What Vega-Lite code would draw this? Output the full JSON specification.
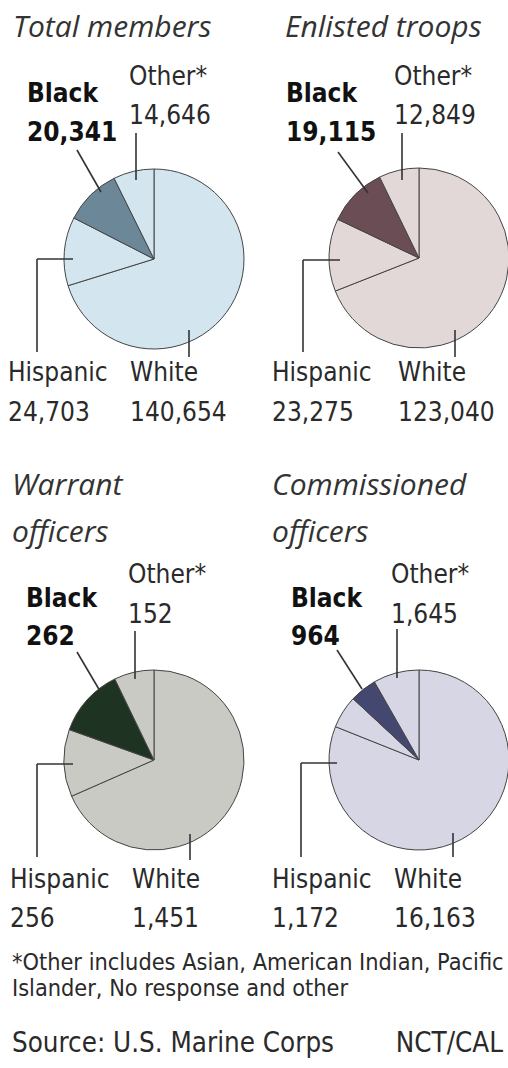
{
  "$schema": "https://vega.github.io/schema/vega-lite/v6.json",
  "padding": 0,
  "background": "white",
  "columns": 2,
  "spacing": {"row": 0, "column": 22},
  "bounds": "flush",
  "config": {
    "view": {"stroke": null},
    "text": {"font": "DejaVu Sans Condensed", "fontSize": 26, "fill": "#2a2a2a", "align": "left", "baseline": "alphabetic"},
    "rule": {"stroke": "#333333", "strokeWidth": 1.6},
    "arc": {"stroke": "#444444", "strokeWidth": 1, "radius": 90}
  },
  "datasets": {
    "marines": [
      {"panel": "Total members", "race": "White", "count": 140654},
      {"panel": "Total members", "race": "Hispanic", "count": 24703},
      {"panel": "Total members", "race": "Black", "count": 20341},
      {"panel": "Total members", "race": "Other*", "count": 14646},
      {"panel": "Enlisted troops", "race": "White", "count": 123040},
      {"panel": "Enlisted troops", "race": "Hispanic", "count": 23275},
      {"panel": "Enlisted troops", "race": "Black", "count": 19115},
      {"panel": "Enlisted troops", "race": "Other*", "count": 12849},
      {"panel": "Warrant officers", "race": "White", "count": 1451},
      {"panel": "Warrant officers", "race": "Hispanic", "count": 256},
      {"panel": "Warrant officers", "race": "Black", "count": 262},
      {"panel": "Warrant officers", "race": "Other*", "count": 152},
      {"panel": "Commissioned officers", "race": "White", "count": 16163},
      {"panel": "Commissioned officers", "race": "Hispanic", "count": 1172},
      {"panel": "Commissioned officers", "race": "Black", "count": 964},
      {"panel": "Commissioned officers", "race": "Other*", "count": 1645}
    ]
  },
  "concat": [
    {
      "width": 243, "height": 503,
      "data": {"name": "marines"},
      "transform": [
        {"filter": "datum.panel === 'Total members'"},
        {"stack": "count", "groupby": ["panel"], "offset": "normalize", "as": ["t0", "t1"]}
      ],
      "layer": [
        {"mark": {"type": "arc"}, "encoding": {
          "x": {"datum": 154, "type": "quantitative", "scale": {"domain": [0, 243]}, "axis": null},
          "y": {"datum": 259, "type": "quantitative", "scale": {"domain": [0, 503], "reverse": true}, "axis": null},
          "theta": {"field": "t0", "type": "quantitative", "scale": {"domain": [0, 1]}},
          "theta2": {"field": "t1"},
          "fill": {"condition": {"test": "datum.race === 'Black'", "value": "#6c8797"}, "value": "#d3e5ee"}}},
        {"transform": [{"filter": "datum.race === 'Black'"}], "mark": {"type": "rule"}, "encoding": {
          "x": {"datum": 77, "type": "quantitative", "scale": {"domain": [0, 243]}, "axis": null},
          "y": {"datum": 150, "type": "quantitative", "scale": {"domain": [0, 503], "reverse": true}, "axis": null},
          "x2": {"datum": 101}, "y2": {"datum": 192}}},
        {"transform": [{"filter": "datum.race === 'Other*'"}], "mark": {"type": "rule"}, "encoding": {
          "x": {"datum": 136, "type": "quantitative", "scale": {"domain": [0, 243]}, "axis": null},
          "y": {"datum": 133, "type": "quantitative", "scale": {"domain": [0, 503], "reverse": true}, "axis": null},
          "x2": {"datum": 136}, "y2": {"datum": 180}}},
        {"transform": [{"filter": "datum.race === 'Hispanic'"}], "mark": {"type": "rule"}, "encoding": {
          "x": {"datum": 37, "type": "quantitative", "scale": {"domain": [0, 243]}, "axis": null},
          "y": {"datum": 259, "type": "quantitative", "scale": {"domain": [0, 503], "reverse": true}, "axis": null},
          "x2": {"datum": 73}, "y2": {"datum": 259}}},
        {"transform": [{"filter": "datum.race === 'Hispanic'"}], "mark": {"type": "rule"}, "encoding": {
          "x": {"datum": 37, "type": "quantitative", "scale": {"domain": [0, 243]}, "axis": null},
          "y": {"datum": 259, "type": "quantitative", "scale": {"domain": [0, 503], "reverse": true}, "axis": null},
          "x2": {"datum": 37}, "y2": {"datum": 352}}},
        {"transform": [{"filter": "datum.race === 'White'"}], "mark": {"type": "rule"}, "encoding": {
          "x": {"datum": 189, "type": "quantitative", "scale": {"domain": [0, 243]}, "axis": null},
          "y": {"datum": 330, "type": "quantitative", "scale": {"domain": [0, 503], "reverse": true}, "axis": null},
          "x2": {"datum": 189}, "y2": {"datum": 357}}},
        {"transform": [{"filter": "datum.race === 'White'"}], "mark": {"type": "text", "font": "Open Sans", "fontStyle": "italic", "fontSize": 30, "fill": "#333333"}, "encoding": {
          "x": {"datum": 13, "type": "quantitative", "scale": {"domain": [0, 243]}, "axis": null},
          "y": {"datum": 37, "type": "quantitative", "scale": {"domain": [0, 503], "reverse": true}, "axis": null},
          "text": {"value": "Total members"}}},
        {"transform": [{"filter": "datum.race === 'Black'"}], "mark": {"type": "text", "fontWeight": "bold", "fill": "#111111"}, "encoding": {
          "x": {"datum": 27, "type": "quantitative", "scale": {"domain": [0, 243]}, "axis": null},
          "y": {"datum": 102, "type": "quantitative", "scale": {"domain": [0, 503], "reverse": true}, "axis": null},
          "text": {"field": "race", "type": "nominal"}}},
        {"transform": [{"filter": "datum.race === 'Black'"}], "mark": {"type": "text", "fontWeight": "bold", "fill": "#111111"}, "encoding": {
          "x": {"datum": 27, "type": "quantitative", "scale": {"domain": [0, 243]}, "axis": null},
          "y": {"datum": 141, "type": "quantitative", "scale": {"domain": [0, 503], "reverse": true}, "axis": null},
          "text": {"field": "count", "type": "quantitative", "format": ","}}},
        {"transform": [{"filter": "datum.race === 'Other*'"}], "mark": {"type": "text"}, "encoding": {
          "x": {"datum": 129, "type": "quantitative", "scale": {"domain": [0, 243]}, "axis": null},
          "y": {"datum": 85, "type": "quantitative", "scale": {"domain": [0, 503], "reverse": true}, "axis": null},
          "text": {"field": "race", "type": "nominal"}}},
        {"transform": [{"filter": "datum.race === 'Other*'"}], "mark": {"type": "text"}, "encoding": {
          "x": {"datum": 129, "type": "quantitative", "scale": {"domain": [0, 243]}, "axis": null},
          "y": {"datum": 124, "type": "quantitative", "scale": {"domain": [0, 503], "reverse": true}, "axis": null},
          "text": {"field": "count", "type": "quantitative", "format": ","}}},
        {"transform": [{"filter": "datum.race === 'Hispanic'"}], "mark": {"type": "text"}, "encoding": {
          "x": {"datum": 8, "type": "quantitative", "scale": {"domain": [0, 243]}, "axis": null},
          "y": {"datum": 381, "type": "quantitative", "scale": {"domain": [0, 503], "reverse": true}, "axis": null},
          "text": {"field": "race", "type": "nominal"}}},
        {"transform": [{"filter": "datum.race === 'Hispanic'"}], "mark": {"type": "text"}, "encoding": {
          "x": {"datum": 8, "type": "quantitative", "scale": {"domain": [0, 243]}, "axis": null},
          "y": {"datum": 421, "type": "quantitative", "scale": {"domain": [0, 503], "reverse": true}, "axis": null},
          "text": {"field": "count", "type": "quantitative", "format": ","}}},
        {"transform": [{"filter": "datum.race === 'White'"}], "mark": {"type": "text"}, "encoding": {
          "x": {"datum": 130, "type": "quantitative", "scale": {"domain": [0, 243]}, "axis": null},
          "y": {"datum": 381, "type": "quantitative", "scale": {"domain": [0, 503], "reverse": true}, "axis": null},
          "text": {"field": "race", "type": "nominal"}}},
        {"transform": [{"filter": "datum.race === 'White'"}], "mark": {"type": "text"}, "encoding": {
          "x": {"datum": 130, "type": "quantitative", "scale": {"domain": [0, 243]}, "axis": null},
          "y": {"datum": 421, "type": "quantitative", "scale": {"domain": [0, 503], "reverse": true}, "axis": null},
          "text": {"field": "count", "type": "quantitative", "format": ","}}}
      ]
    },
    {
      "width": 243, "height": 503,
      "data": {"name": "marines"},
      "transform": [
        {"filter": "datum.panel === 'Enlisted troops'"},
        {"stack": "count", "groupby": ["panel"], "offset": "normalize", "as": ["t0", "t1"]}
      ],
      "layer": [
        {"mark": {"type": "arc"}, "encoding": {
          "x": {"datum": 154, "type": "quantitative", "scale": {"domain": [0, 243]}, "axis": null},
          "y": {"datum": 258, "type": "quantitative", "scale": {"domain": [0, 503], "reverse": true}, "axis": null},
          "theta": {"field": "t0", "type": "quantitative", "scale": {"domain": [0, 1]}},
          "theta2": {"field": "t1"},
          "fill": {"condition": {"test": "datum.race === 'Black'", "value": "#6a4d55"}, "value": "#e3d8d8"}}},
        {"transform": [{"filter": "datum.race === 'Black'"}], "mark": {"type": "rule"}, "encoding": {
          "x": {"datum": 73, "type": "quantitative", "scale": {"domain": [0, 243]}, "axis": null},
          "y": {"datum": 152, "type": "quantitative", "scale": {"domain": [0, 503], "reverse": true}, "axis": null},
          "x2": {"datum": 103}, "y2": {"datum": 193}}},
        {"transform": [{"filter": "datum.race === 'Other*'"}], "mark": {"type": "rule"}, "encoding": {
          "x": {"datum": 137, "type": "quantitative", "scale": {"domain": [0, 243]}, "axis": null},
          "y": {"datum": 133, "type": "quantitative", "scale": {"domain": [0, 503], "reverse": true}, "axis": null},
          "x2": {"datum": 137}, "y2": {"datum": 180}}},
        {"transform": [{"filter": "datum.race === 'Hispanic'"}], "mark": {"type": "rule"}, "encoding": {
          "x": {"datum": 38, "type": "quantitative", "scale": {"domain": [0, 243]}, "axis": null},
          "y": {"datum": 260, "type": "quantitative", "scale": {"domain": [0, 503], "reverse": true}, "axis": null},
          "x2": {"datum": 75}, "y2": {"datum": 260}}},
        {"transform": [{"filter": "datum.race === 'Hispanic'"}], "mark": {"type": "rule"}, "encoding": {
          "x": {"datum": 38, "type": "quantitative", "scale": {"domain": [0, 243]}, "axis": null},
          "y": {"datum": 260, "type": "quantitative", "scale": {"domain": [0, 503], "reverse": true}, "axis": null},
          "x2": {"datum": 38}, "y2": {"datum": 352}}},
        {"transform": [{"filter": "datum.race === 'White'"}], "mark": {"type": "rule"}, "encoding": {
          "x": {"datum": 190, "type": "quantitative", "scale": {"domain": [0, 243]}, "axis": null},
          "y": {"datum": 330, "type": "quantitative", "scale": {"domain": [0, 503], "reverse": true}, "axis": null},
          "x2": {"datum": 190}, "y2": {"datum": 357}}},
        {"transform": [{"filter": "datum.race === 'White'"}], "mark": {"type": "text", "font": "Open Sans", "fontStyle": "italic", "fontSize": 30, "fill": "#333333"}, "encoding": {
          "x": {"datum": 20, "type": "quantitative", "scale": {"domain": [0, 243]}, "axis": null},
          "y": {"datum": 37, "type": "quantitative", "scale": {"domain": [0, 503], "reverse": true}, "axis": null},
          "text": {"value": "Enlisted troops"}}},
        {"transform": [{"filter": "datum.race === 'Black'"}], "mark": {"type": "text", "fontWeight": "bold", "fill": "#111111"}, "encoding": {
          "x": {"datum": 21, "type": "quantitative", "scale": {"domain": [0, 243]}, "axis": null},
          "y": {"datum": 102, "type": "quantitative", "scale": {"domain": [0, 503], "reverse": true}, "axis": null},
          "text": {"field": "race", "type": "nominal"}}},
        {"transform": [{"filter": "datum.race === 'Black'"}], "mark": {"type": "text", "fontWeight": "bold", "fill": "#111111"}, "encoding": {
          "x": {"datum": 21, "type": "quantitative", "scale": {"domain": [0, 243]}, "axis": null},
          "y": {"datum": 141, "type": "quantitative", "scale": {"domain": [0, 503], "reverse": true}, "axis": null},
          "text": {"field": "count", "type": "quantitative", "format": ","}}},
        {"transform": [{"filter": "datum.race === 'Other*'"}], "mark": {"type": "text"}, "encoding": {
          "x": {"datum": 129, "type": "quantitative", "scale": {"domain": [0, 243]}, "axis": null},
          "y": {"datum": 85, "type": "quantitative", "scale": {"domain": [0, 503], "reverse": true}, "axis": null},
          "text": {"field": "race", "type": "nominal"}}},
        {"transform": [{"filter": "datum.race === 'Other*'"}], "mark": {"type": "text"}, "encoding": {
          "x": {"datum": 129, "type": "quantitative", "scale": {"domain": [0, 243]}, "axis": null},
          "y": {"datum": 124, "type": "quantitative", "scale": {"domain": [0, 503], "reverse": true}, "axis": null},
          "text": {"field": "count", "type": "quantitative", "format": ","}}},
        {"transform": [{"filter": "datum.race === 'Hispanic'"}], "mark": {"type": "text"}, "encoding": {
          "x": {"datum": 7, "type": "quantitative", "scale": {"domain": [0, 243]}, "axis": null},
          "y": {"datum": 381, "type": "quantitative", "scale": {"domain": [0, 503], "reverse": true}, "axis": null},
          "text": {"field": "race", "type": "nominal"}}},
        {"transform": [{"filter": "datum.race === 'Hispanic'"}], "mark": {"type": "text"}, "encoding": {
          "x": {"datum": 7, "type": "quantitative", "scale": {"domain": [0, 243]}, "axis": null},
          "y": {"datum": 421, "type": "quantitative", "scale": {"domain": [0, 503], "reverse": true}, "axis": null},
          "text": {"field": "count", "type": "quantitative", "format": ","}}},
        {"transform": [{"filter": "datum.race === 'White'"}], "mark": {"type": "text"}, "encoding": {
          "x": {"datum": 133, "type": "quantitative", "scale": {"domain": [0, 243]}, "axis": null},
          "y": {"datum": 381, "type": "quantitative", "scale": {"domain": [0, 503], "reverse": true}, "axis": null},
          "text": {"field": "race", "type": "nominal"}}},
        {"transform": [{"filter": "datum.race === 'White'"}], "mark": {"type": "text"}, "encoding": {
          "x": {"datum": 133, "type": "quantitative", "scale": {"domain": [0, 243]}, "axis": null},
          "y": {"datum": 421, "type": "quantitative", "scale": {"domain": [0, 503], "reverse": true}, "axis": null},
          "text": {"field": "count", "type": "quantitative", "format": ","}}}
      ]
    },
    {
      "width": 243, "height": 440,
      "data": {"name": "marines"},
      "transform": [
        {"filter": "datum.panel === 'Warrant officers'"},
        {"stack": "count", "groupby": ["panel"], "offset": "normalize", "as": ["t0", "t1"]}
      ],
      "layer": [
        {"mark": {"type": "arc"}, "encoding": {
          "x": {"datum": 154, "type": "quantitative", "scale": {"domain": [0, 243]}, "axis": null},
          "y": {"datum": 257, "type": "quantitative", "scale": {"domain": [0, 440], "reverse": true}, "axis": null},
          "theta": {"field": "t0", "type": "quantitative", "scale": {"domain": [0, 1]}},
          "theta2": {"field": "t1"},
          "fill": {"condition": {"test": "datum.race === 'Black'", "value": "#1f3323"}, "value": "#c9cac4"}}},
        {"transform": [{"filter": "datum.race === 'Black'"}], "mark": {"type": "rule"}, "encoding": {
          "x": {"datum": 77, "type": "quantitative", "scale": {"domain": [0, 243]}, "axis": null},
          "y": {"datum": 149, "type": "quantitative", "scale": {"domain": [0, 440], "reverse": true}, "axis": null},
          "x2": {"datum": 100}, "y2": {"datum": 188}}},
        {"transform": [{"filter": "datum.race === 'Other*'"}], "mark": {"type": "rule"}, "encoding": {
          "x": {"datum": 135, "type": "quantitative", "scale": {"domain": [0, 243]}, "axis": null},
          "y": {"datum": 128, "type": "quantitative", "scale": {"domain": [0, 440], "reverse": true}, "axis": null},
          "x2": {"datum": 135}, "y2": {"datum": 176}}},
        {"transform": [{"filter": "datum.race === 'Hispanic'"}], "mark": {"type": "rule"}, "encoding": {
          "x": {"datum": 37, "type": "quantitative", "scale": {"domain": [0, 243]}, "axis": null},
          "y": {"datum": 261, "type": "quantitative", "scale": {"domain": [0, 440], "reverse": true}, "axis": null},
          "x2": {"datum": 73}, "y2": {"datum": 261}}},
        {"transform": [{"filter": "datum.race === 'Hispanic'"}], "mark": {"type": "rule"}, "encoding": {
          "x": {"datum": 37, "type": "quantitative", "scale": {"domain": [0, 243]}, "axis": null},
          "y": {"datum": 261, "type": "quantitative", "scale": {"domain": [0, 440], "reverse": true}, "axis": null},
          "x2": {"datum": 37}, "y2": {"datum": 354}}},
        {"transform": [{"filter": "datum.race === 'White'"}], "mark": {"type": "rule"}, "encoding": {
          "x": {"datum": 190, "type": "quantitative", "scale": {"domain": [0, 243]}, "axis": null},
          "y": {"datum": 331, "type": "quantitative", "scale": {"domain": [0, 440], "reverse": true}, "axis": null},
          "x2": {"datum": 190}, "y2": {"datum": 357}}},
        {"transform": [{"filter": "datum.race === 'White'"}], "mark": {"type": "text", "font": "Open Sans", "fontStyle": "italic", "fontSize": 30, "fill": "#333333", "lineHeight": 47}, "encoding": {
          "x": {"datum": 12, "type": "quantitative", "scale": {"domain": [0, 243]}, "axis": null},
          "y": {"datum": -8, "type": "quantitative", "scale": {"domain": [0, 440], "reverse": true}, "axis": null},
          "text": {"value": ["Warrant", "officers"]}}},
        {"transform": [{"filter": "datum.race === 'Black'"}], "mark": {"type": "text", "fontWeight": "bold", "fill": "#111111"}, "encoding": {
          "x": {"datum": 26, "type": "quantitative", "scale": {"domain": [0, 243]}, "axis": null},
          "y": {"datum": 104, "type": "quantitative", "scale": {"domain": [0, 440], "reverse": true}, "axis": null},
          "text": {"field": "race", "type": "nominal"}}},
        {"transform": [{"filter": "datum.race === 'Black'"}], "mark": {"type": "text", "fontWeight": "bold", "fill": "#111111"}, "encoding": {
          "x": {"datum": 26, "type": "quantitative", "scale": {"domain": [0, 243]}, "axis": null},
          "y": {"datum": 142, "type": "quantitative", "scale": {"domain": [0, 440], "reverse": true}, "axis": null},
          "text": {"field": "count", "type": "quantitative", "format": ","}}},
        {"transform": [{"filter": "datum.race === 'Other*'"}], "mark": {"type": "text"}, "encoding": {
          "x": {"datum": 128, "type": "quantitative", "scale": {"domain": [0, 243]}, "axis": null},
          "y": {"datum": 80, "type": "quantitative", "scale": {"domain": [0, 440], "reverse": true}, "axis": null},
          "text": {"field": "race", "type": "nominal"}}},
        {"transform": [{"filter": "datum.race === 'Other*'"}], "mark": {"type": "text"}, "encoding": {
          "x": {"datum": 128, "type": "quantitative", "scale": {"domain": [0, 243]}, "axis": null},
          "y": {"datum": 120, "type": "quantitative", "scale": {"domain": [0, 440], "reverse": true}, "axis": null},
          "text": {"field": "count", "type": "quantitative", "format": ","}}},
        {"transform": [{"filter": "datum.race === 'Hispanic'"}], "mark": {"type": "text"}, "encoding": {
          "x": {"datum": 10, "type": "quantitative", "scale": {"domain": [0, 243]}, "axis": null},
          "y": {"datum": 385, "type": "quantitative", "scale": {"domain": [0, 440], "reverse": true}, "axis": null},
          "text": {"field": "race", "type": "nominal"}}},
        {"transform": [{"filter": "datum.race === 'Hispanic'"}], "mark": {"type": "text"}, "encoding": {
          "x": {"datum": 10, "type": "quantitative", "scale": {"domain": [0, 243]}, "axis": null},
          "y": {"datum": 424, "type": "quantitative", "scale": {"domain": [0, 440], "reverse": true}, "axis": null},
          "text": {"field": "count", "type": "quantitative", "format": ","}}},
        {"transform": [{"filter": "datum.race === 'White'"}], "mark": {"type": "text"}, "encoding": {
          "x": {"datum": 132, "type": "quantitative", "scale": {"domain": [0, 243]}, "axis": null},
          "y": {"datum": 385, "type": "quantitative", "scale": {"domain": [0, 440], "reverse": true}, "axis": null},
          "text": {"field": "race", "type": "nominal"}}},
        {"transform": [{"filter": "datum.race === 'White'"}], "mark": {"type": "text"}, "encoding": {
          "x": {"datum": 132, "type": "quantitative", "scale": {"domain": [0, 243]}, "axis": null},
          "y": {"datum": 424, "type": "quantitative", "scale": {"domain": [0, 440], "reverse": true}, "axis": null},
          "text": {"field": "count", "type": "quantitative", "format": ","}}}
      ]
    },
    {
      "width": 243, "height": 440,
      "data": {"name": "marines"},
      "transform": [
        {"filter": "datum.panel === 'Commissioned officers'"},
        {"stack": "count", "groupby": ["panel"], "offset": "normalize", "as": ["t0", "t1"]}
      ],
      "layer": [
        {"mark": {"type": "arc"}, "encoding": {
          "x": {"datum": 154, "type": "quantitative", "scale": {"domain": [0, 243]}, "axis": null},
          "y": {"datum": 257, "type": "quantitative", "scale": {"domain": [0, 440], "reverse": true}, "axis": null},
          "theta": {"field": "t0", "type": "quantitative", "scale": {"domain": [0, 1]}},
          "theta2": {"field": "t1"},
          "fill": {"condition": {"test": "datum.race === 'Black'", "value": "#444870"}, "value": "#d6d6e5"}}},
        {"transform": [{"filter": "datum.race === 'Black'"}], "mark": {"type": "rule"}, "encoding": {
          "x": {"datum": 72, "type": "quantitative", "scale": {"domain": [0, 243]}, "axis": null},
          "y": {"datum": 147, "type": "quantitative", "scale": {"domain": [0, 440], "reverse": true}, "axis": null},
          "x2": {"datum": 97}, "y2": {"datum": 186}}},
        {"transform": [{"filter": "datum.race === 'Other*'"}], "mark": {"type": "rule"}, "encoding": {
          "x": {"datum": 132, "type": "quantitative", "scale": {"domain": [0, 243]}, "axis": null},
          "y": {"datum": 126, "type": "quantitative", "scale": {"domain": [0, 440], "reverse": true}, "axis": null},
          "x2": {"datum": 132}, "y2": {"datum": 175}}},
        {"transform": [{"filter": "datum.race === 'Hispanic'"}], "mark": {"type": "rule"}, "encoding": {
          "x": {"datum": 36, "type": "quantitative", "scale": {"domain": [0, 243]}, "axis": null},
          "y": {"datum": 260, "type": "quantitative", "scale": {"domain": [0, 440], "reverse": true}, "axis": null},
          "x2": {"datum": 72}, "y2": {"datum": 260}}},
        {"transform": [{"filter": "datum.race === 'Hispanic'"}], "mark": {"type": "rule"}, "encoding": {
          "x": {"datum": 36, "type": "quantitative", "scale": {"domain": [0, 243]}, "axis": null},
          "y": {"datum": 260, "type": "quantitative", "scale": {"domain": [0, 440], "reverse": true}, "axis": null},
          "x2": {"datum": 36}, "y2": {"datum": 354}}},
        {"transform": [{"filter": "datum.race === 'White'"}], "mark": {"type": "rule"}, "encoding": {
          "x": {"datum": 188, "type": "quantitative", "scale": {"domain": [0, 243]}, "axis": null},
          "y": {"datum": 330, "type": "quantitative", "scale": {"domain": [0, 440], "reverse": true}, "axis": null},
          "x2": {"datum": 188}, "y2": {"datum": 354}}},
        {"transform": [{"filter": "datum.race === 'White'"}], "mark": {"type": "text", "font": "Open Sans", "fontStyle": "italic", "fontSize": 30, "fill": "#333333", "lineHeight": 47}, "encoding": {
          "x": {"datum": 7, "type": "quantitative", "scale": {"domain": [0, 243]}, "axis": null},
          "y": {"datum": -8, "type": "quantitative", "scale": {"domain": [0, 440], "reverse": true}, "axis": null},
          "text": {"value": ["Commissioned", "officers"]}}},
        {"transform": [{"filter": "datum.race === 'Black'"}], "mark": {"type": "text", "fontWeight": "bold", "fill": "#111111"}, "encoding": {
          "x": {"datum": 26, "type": "quantitative", "scale": {"domain": [0, 243]}, "axis": null},
          "y": {"datum": 104, "type": "quantitative", "scale": {"domain": [0, 440], "reverse": true}, "axis": null},
          "text": {"field": "race", "type": "nominal"}}},
        {"transform": [{"filter": "datum.race === 'Black'"}], "mark": {"type": "text", "fontWeight": "bold", "fill": "#111111"}, "encoding": {
          "x": {"datum": 26, "type": "quantitative", "scale": {"domain": [0, 243]}, "axis": null},
          "y": {"datum": 142, "type": "quantitative", "scale": {"domain": [0, 440], "reverse": true}, "axis": null},
          "text": {"field": "count", "type": "quantitative", "format": ","}}},
        {"transform": [{"filter": "datum.race === 'Other*'"}], "mark": {"type": "text"}, "encoding": {
          "x": {"datum": 126, "type": "quantitative", "scale": {"domain": [0, 243]}, "axis": null},
          "y": {"datum": 80, "type": "quantitative", "scale": {"domain": [0, 440], "reverse": true}, "axis": null},
          "text": {"field": "race", "type": "nominal"}}},
        {"transform": [{"filter": "datum.race === 'Other*'"}], "mark": {"type": "text"}, "encoding": {
          "x": {"datum": 126, "type": "quantitative", "scale": {"domain": [0, 243]}, "axis": null},
          "y": {"datum": 120, "type": "quantitative", "scale": {"domain": [0, 440], "reverse": true}, "axis": null},
          "text": {"field": "count", "type": "quantitative", "format": ","}}},
        {"transform": [{"filter": "datum.race === 'Hispanic'"}], "mark": {"type": "text"}, "encoding": {
          "x": {"datum": 7, "type": "quantitative", "scale": {"domain": [0, 243]}, "axis": null},
          "y": {"datum": 385, "type": "quantitative", "scale": {"domain": [0, 440], "reverse": true}, "axis": null},
          "text": {"field": "race", "type": "nominal"}}},
        {"transform": [{"filter": "datum.race === 'Hispanic'"}], "mark": {"type": "text"}, "encoding": {
          "x": {"datum": 7, "type": "quantitative", "scale": {"domain": [0, 243]}, "axis": null},
          "y": {"datum": 424, "type": "quantitative", "scale": {"domain": [0, 440], "reverse": true}, "axis": null},
          "text": {"field": "count", "type": "quantitative", "format": ","}}},
        {"transform": [{"filter": "datum.race === 'White'"}], "mark": {"type": "text"}, "encoding": {
          "x": {"datum": 129, "type": "quantitative", "scale": {"domain": [0, 243]}, "axis": null},
          "y": {"datum": 385, "type": "quantitative", "scale": {"domain": [0, 440], "reverse": true}, "axis": null},
          "text": {"field": "race", "type": "nominal"}}},
        {"transform": [{"filter": "datum.race === 'White'"}], "mark": {"type": "text"}, "encoding": {
          "x": {"datum": 129, "type": "quantitative", "scale": {"domain": [0, 243]}, "axis": null},
          "y": {"datum": 424, "type": "quantitative", "scale": {"domain": [0, 440], "reverse": true}, "axis": null},
          "text": {"field": "count", "type": "quantitative", "format": ","}}}
      ]
    },
    {
      "width": 243, "height": 125,
      "data": {"values": [{"note": "footnote"}]},
      "layer": [
        {"mark": {"type": "text", "fontSize": 23.3, "lineHeight": 26}, "encoding": {
          "x": {"datum": 12, "type": "quantitative", "scale": {"domain": [0, 243]}, "axis": null},
          "y": {"datum": 27, "type": "quantitative", "scale": {"domain": [0, 125], "reverse": true}, "axis": null},
          "text": {"value": ["*Other includes Asian, American Indian, Pacific", "Islander, No response and other"]}}},
        {"mark": {"type": "text", "fontSize": 27.5}, "encoding": {
          "x": {"datum": 12, "type": "quantitative", "scale": {"domain": [0, 243]}, "axis": null},
          "y": {"datum": 109, "type": "quantitative", "scale": {"domain": [0, 125], "reverse": true}, "axis": null},
          "text": {"value": "Source: U.S. Marine Corps"}}},
        {"mark": {"type": "text", "fontSize": 27.5, "align": "right"}, "encoding": {
          "x": {"datum": 503, "type": "quantitative", "scale": {"domain": [0, 243]}, "axis": null},
          "y": {"datum": 109, "type": "quantitative", "scale": {"domain": [0, 125], "reverse": true}, "axis": null},
          "text": {"value": "NCT/CAL"}}}
      ]
    }
  ]
}
